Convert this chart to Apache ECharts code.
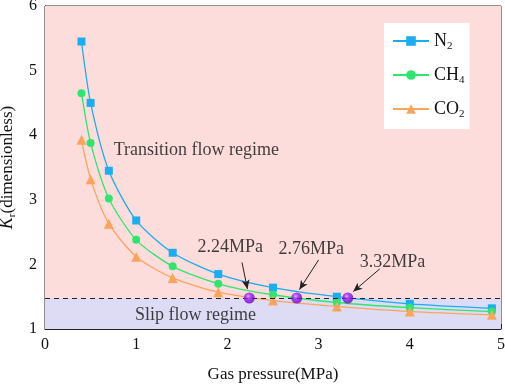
<!DOCTYPE html>
<html><head><meta charset="utf-8">
<script src="https://cdn.jsdelivr.net/npm/echarts@6/dist/echarts.min.js"></script>
<style>html,body{margin:0;padding:0;background:#fff}#c{width:505px;height:384px}</style>
</head><body><div id="c"></div>
<script>
var pressure = [0.4, 0.5, 0.7, 1.0, 1.4, 1.9, 2.5, 3.2, 4.0, 4.9];
var kN2  = [5.45, 4.50, 3.45, 2.68, 2.18, 1.85, 1.64, 1.50, 1.39, 1.32];
var kCH4 = [4.65, 3.88, 3.02, 2.38, 1.97, 1.70, 1.53, 1.41, 1.33, 1.27];
var kCO2 = [3.93, 3.32, 2.63, 2.12, 1.79, 1.57, 1.44, 1.35, 1.27, 1.22];
var boundaryK = 1.48;
var transitionPressures = [2.24, 2.76, 3.32];
var transitionLabels = ['2.24MPa', '2.76MPa', '3.32MPa'];
var labelPos = [[2.03, 2.27], [2.92, 2.24], [3.81, 2.04]];
var arrowStart = [[2.16, 2.03], [3.00, 2.07], [3.67, 1.93]];
var arrowEnd = [[2.22, 1.62], [2.79, 1.61], [3.38, 1.58]];
var regimeNames = ['Transition flow regime', 'Slip flow regime'];
var regimePos = [[1.66, 3.77], [1.65, 1.22]];
var xTicks = [0, 1, 2, 3, 4, 5];
var yTicks = [1, 2, 3, 4, 5, 6];

var FONT = '"Liberation Serif", "Times New Roman", serif';
function pairs(xs, ys){ return xs.map(function(x,i){ return [x, ys[i]]; }); }

var chart = echarts.init(document.getElementById('c'), null, {renderer:'canvas'});
var lineBase = function(name, data, color, symbol, size){
  return {
    name: name, type: 'line', data: pairs(pressure, data), smooth: 0.25,
    symbol: symbol, symbolSize: size, showSymbol: true,
    lineStyle: {color: color, width: 1.3}, itemStyle: {color: color},
    z: 3
  };
};
var subs = {N2:'{a|N}{s|2}', CH4:'{a|CH}{s|4}', CO2:'{a|CO}{s|2}'};
var option = {
  animation: false,
  backgroundColor: '#fff',
  textStyle: {fontFamily: FONT},
  grid: {left: 45, right: 4, top: 6, bottom: 55, outerBoundsMode: 'none', containLabel: false,
    show: true, borderColor: '#222', borderWidth: 1, backgroundColor: 'transparent'},
  legend: {
    data: ['N2', 'CH4', 'CO2'],
    orient: 'vertical', left: 384, top: 23,
    backgroundColor: '#fff', padding: [9, 5, 9, 8],
    itemWidth: 36, itemHeight: 12, itemGap: 14,
    formatter: function(n){ return subs[n]; },
    textStyle: {fontFamily: FONT, fontSize: 18, color: '#111',
      rich: {a: {fontFamily: FONT, fontSize: 18, color: '#111'},
             s: {fontFamily: FONT, fontSize: 11, color: '#111', padding: [11, 0, 0, 0]}}}
  },
  xAxis: {
    type: 'value', min: 0, max: 5, interval: 1,
    name: 'Gas pressure(MPa)', nameLocation: 'middle', nameGap: 37,
    nameTextStyle: {fontFamily: FONT, fontSize: 17, color: '#111'},
    axisLine: {lineStyle: {color: '#222'}},
    axisTick: {inside: true, length: 5, lineStyle: {color: '#222'}},
    minorTick: {show: true, splitNumber: 2, length: 3, lineStyle: {color: '#222'}},
    axisLabel: {fontFamily: FONT, fontSize: 16, color: '#111', margin: 8,
      formatter: function(v){ return xTicks.indexOf(v) >= 0 ? String(v) : ''; }},
    splitLine: {show: false}
  },
  yAxis: {
    type: 'value', min: 1, max: 6, interval: 1,
    name: '{i|K}{s|r}{a|(dimensionless)}', nameLocation: 'middle', nameGap: 21,
    nameTextStyle: {fontFamily: FONT, fontSize: 17, color: '#111',
      rich: {i: {fontFamily: FONT, fontSize: 18, fontStyle: 'italic', color: '#111'},
             s: {fontFamily: FONT, fontSize: 11, color: '#111', padding: [10, 0, 0, 0]},
             a: {fontFamily: FONT, fontSize: 17, color: '#111'}}},
    axisLine: {lineStyle: {color: '#222'}},
    axisTick: {inside: true, length: 5, lineStyle: {color: '#222'}},
    minorTick: {show: true, splitNumber: 2, length: 3, lineStyle: {color: '#222'}},
    axisLabel: {fontFamily: FONT, fontSize: 16, color: '#111', margin: 8,
      formatter: function(v){ return yTicks.indexOf(v) >= 0 ? String(v) : ''; }},
    splitLine: {show: false}
  },
  series: [
    {
      name: 'bg', type: 'line', data: [], z: 0, silent: true,
      markArea: {silent: true, data: [
        [{yAxis: boundaryK, itemStyle: {color: '#fddcdc'}}, {yAxis: 6}],
        [{yAxis: 1, itemStyle: {color: '#dedcf5'}}, {yAxis: boundaryK}]
      ]},
      markLine: {silent: true, symbol: 'none', label: {show: false},
        lineStyle: {color: '#222', type: [5, 4], width: 1},
        data: [{yAxis: boundaryK}]}
    },
    lineBase('N2', kN2, '#1aaef0', 'rect', 8),
    lineBase('CH4', kCH4, '#2ee66e', 'circle', 8),
    lineBase('CO2', kCO2, '#fba55c', 'triangle', 10),
    {
      name: 'transition', type: 'scatter', z: 5,
      data: transitionPressures.map(function(p){ return [p, boundaryK]; }),
      symbolSize: 11,
      itemStyle: {color: new echarts.graphic.RadialGradient(0.4, 0.35, 0.7, [
        {offset: 0, color: '#d9a0ff'}, {offset: 0.35, color: '#9a1ef0'}, {offset: 1, color: '#6a00c0'}])}
    },
    {
      name: 'annot', type: 'scatter', z: 6, symbolSize: 0, silent: true,
      data: labelPos.map(function(p, i){ return {value: p, name: transitionLabels[i]}; }),
      label: {show: true, position: 'inside', formatter: '{b}', fontFamily: FONT, fontSize: 18, color: '#111'},
      markLine: {silent: true, symbol: ['none', 'arrow'], symbolSize: [6, 9], label: {show: false},
        lineStyle: {color: '#222', width: 1, type: 'solid'},
        data: arrowStart.map(function(s, i){ return [{coord: s}, {coord: arrowEnd[i]}]; })}
    },
    {
      name: 'regimes', type: 'scatter', z: 6, symbolSize: 0, silent: true,
      data: regimePos.map(function(p, i){ return {value: p, name: regimeNames[i]}; }),
      label: {show: true, position: 'inside', formatter: '{b}', fontFamily: FONT, fontSize: 18, color: '#111'}
    }
  ]
};
chart.setOption(option);
</script></body></html>
